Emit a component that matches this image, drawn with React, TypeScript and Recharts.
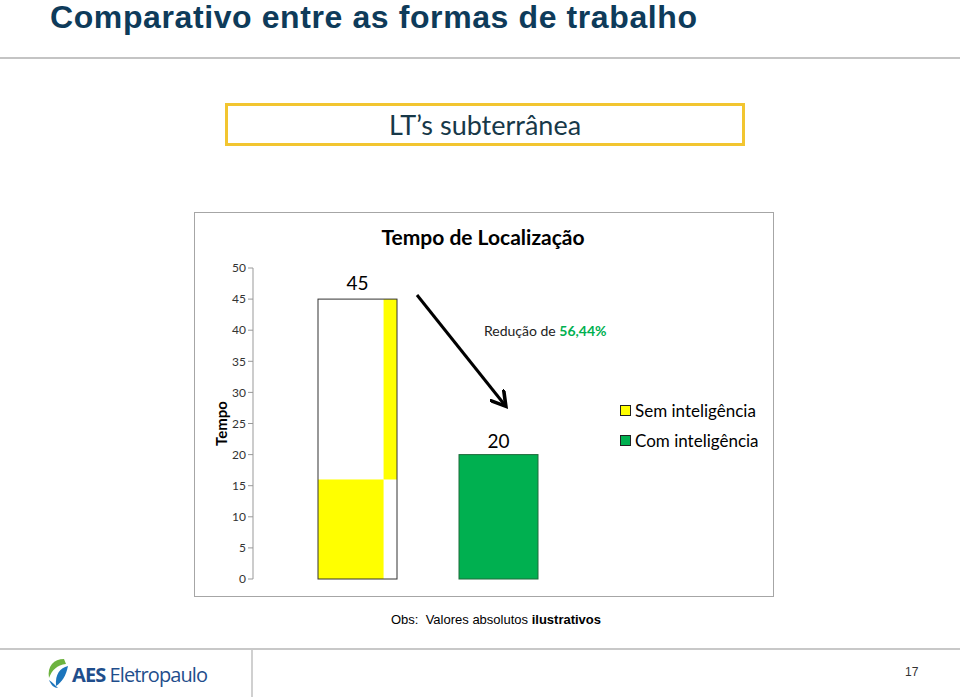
import { BarChart, Bar, XAxis, YAxis, Legend, LabelList, Customized } from "recharts";

// data
const categories = ["Tempo de Localização"];
const semInteligencia = [45];
const comInteligencia = [20];
const semSplit = [16]; // where the yellow fill jumps to the right strip
const yTicks = [0, 5, 10, 15, 20, 25, 30, 35, 40, 45, 50];
const reducao = "56,44%";

const data = categories.map((name, i) => ({
  name,
  sem: semInteligencia[i],
  com: comInteligencia[i],
  split: semSplit[i],
}));

const FONT = "Lato, 'Open Sans', sans-serif";
const YELLOW = "#FFFF00";
const GREEN = "#00B050";

function SemShape(props: any) {
  const { x, y, width, height, payload } = props;
  const splitH = (height * payload.split) / payload.sem;
  const strip = width * 0.17;
  return (
    <g>
      <rect x={x} y={y + height - splitH} width={width - strip} height={splitH} fill={YELLOW} />
      <rect x={x + width - strip} y={y} width={strip} height={height - splitH} fill={YELLOW} />
      <rect x={x} y={y} width={width} height={height} fill="none" stroke="#333" strokeWidth={1} />
    </g>
  );
}

function ComShape(props: any) {
  const { x, y, width, height } = props;
  return <rect x={x} y={y} width={width} height={height} fill={GREEN} stroke="#1e6b3a" strokeWidth={1} />;
}

function LegendBox() {
  const items = [
    { label: "Sem inteligência", color: YELLOW },
    { label: "Com inteligência", color: GREEN },
  ];
  return (
    <div style={{ fontFamily: FONT }}>
      {items.map((it) => (
        <div key={it.label} style={{ display: "flex", alignItems: "center", height: 30 }}>
          <span style={{ width: 9, height: 9, background: it.color, border: "1px solid #222", marginRight: 4 }} />
          <span style={{ fontSize: 17, color: "#000" }}>{it.label}</span>
        </div>
      ))}
    </div>
  );
}

function Annotations() {
  return (
    <g fontFamily={FONT}>
      <text x={289} y={33} textAnchor="middle" fontSize={21} fontWeight="bold" fill="#000">
        Tempo de Localização
      </text>
      <defs>
        <marker id="arrowHead" markerWidth="6" markerHeight="6" refX="4" refY="3" orient="auto">
          <path d="M0,0 L5,3 L0,6" fill="none" stroke="#000" strokeWidth={1.2} />
        </marker>
      </defs>
      <line x1={223} y1={83} x2={310} y2={192} stroke="#000" strokeWidth={3} markerEnd="url(#arrowHead)" />
      <text x={290} y={124} fontSize={14} fill="#222">
        Redução de <tspan fill={GREEN} fontWeight="bold">{reducao}</tspan>
      </text>
    </g>
  );
}

export default function App() {
  return (
    <div style={{ position: "absolute", left: 0, top: 0, width: 960, height: 697, background: "#fff", overflow: "hidden" }}>
      <div style={{ position: "absolute", left: 50, top: 0, fontFamily: "'Liberation Sans', Arial, sans-serif", fontWeight: "bold", fontSize: 32, lineHeight: "34px", color: "#0E3B5A", whiteSpace: "nowrap", letterSpacing: 0.6 }}>
        Comparativo entre as formas de trabalho
      </div>
      <div style={{ position: "absolute", left: 0, top: 57, width: 960, height: 2, background: "#c4c4c4" }} />

      <div style={{ position: "absolute", left: 225, top: 103, width: 520, height: 43, boxSizing: "border-box", border: "3px solid #F2C530", display: "flex", alignItems: "center", justifyContent: "center", fontFamily: FONT, fontSize: 27, color: "#173848" }}>
        LT’s subterrânea
      </div>

      <div style={{ position: "absolute", left: 194, top: 212, width: 580, height: 385, boxSizing: "border-box", border: "1px solid #a6a6a6" }} />
      <div style={{ position: "absolute", left: 194, top: 212 }}>
        <BarChart width={580} height={385} data={data} margin={{ top: 56, right: 177, bottom: 18, left: 0 }} barGap={62}>
          <XAxis dataKey="name" tick={false} tickLine={false} height={0} axisLine={{ stroke: "#999" }} padding={{ left: 6, right: 0 }} />
          <YAxis
            width={59}
            domain={[0, 50]}
            ticks={yTicks}
            interval={0}
            tickSize={5}
            tickMargin={2}
            axisLine={{ stroke: "#999" }}
            tickLine={{ stroke: "#999" }}
            tick={{ fontSize: 12, fill: "#333", fontFamily: FONT }}
            label={{ value: "Tempo", angle: -90, position: "center", dx: -2, style: { fontSize: 15, fontWeight: "bold", fill: "#000", fontFamily: FONT } }}
          />
          <Bar dataKey="sem" name="Sem inteligência" barSize={79} shape={<SemShape />} isAnimationActive={false}>
            <LabelList dataKey="sem" position="top" offset={9} style={{ fontSize: 19, fill: "#000", fontFamily: FONT }} />
          </Bar>
          <Bar dataKey="com" name="Com inteligência" barSize={79} shape={<ComShape />} isAnimationActive={false}>
            <LabelList dataKey="com" position="top" offset={7} style={{ fontSize: 19, fill: "#000", fontFamily: FONT }} />
          </Bar>
          <Legend layout="vertical" align="center" verticalAlign="middle" content={() => <LegendBox />} wrapperStyle={{ left: 426, top: 183, width: 150 }} />
          <Customized component={Annotations} />
        </BarChart>
      </div>

      <div style={{ position: "absolute", left: 0, top: 612, width: 960, textAlign: "center", fontFamily: "'Liberation Sans', Arial, sans-serif", fontSize: 13, color: "#000", paddingLeft: 32, boxSizing: "border-box" }}>
        Obs:&nbsp; Valores absolutos <b>ilustrativos</b>
      </div>

      <div style={{ position: "absolute", left: 0, top: 648, width: 960, height: 2, background: "#c8c8c8" }} />
      <div style={{ position: "absolute", left: 251, top: 650, width: 2, height: 47, background: "#d0d0d0" }} />
      <svg style={{ position: "absolute", left: 44, top: 656 }} width={32} height={34}>
        <path d="M20,3 C10,3 3,10 5,22 C8,14 13,9 22,8 Z" fill="#6DB33F" />
        <path d="M24,10 C16,12 11,18 12,30 C18,26 22,20 24,10 Z" fill="#1C75BC" />
        <path d="M5,24 C7,29 10,32 14,32 C11,29 9,27 5,24 Z" fill="#1C75BC" />
      </svg>
      <div style={{ position: "absolute", left: 72, top: 661, fontFamily: "'Open Sans', sans-serif", fontSize: 20, color: "#1F4E8C", whiteSpace: "nowrap", letterSpacing: -0.9 }}>
        <b>AES</b> Eletropaulo
      </div>
      <div style={{ position: "absolute", left: 905, top: 665, fontFamily: "'Liberation Sans', Arial, sans-serif", fontSize: 12, color: "#333" }}>17</div>
    </div>
  );
}
